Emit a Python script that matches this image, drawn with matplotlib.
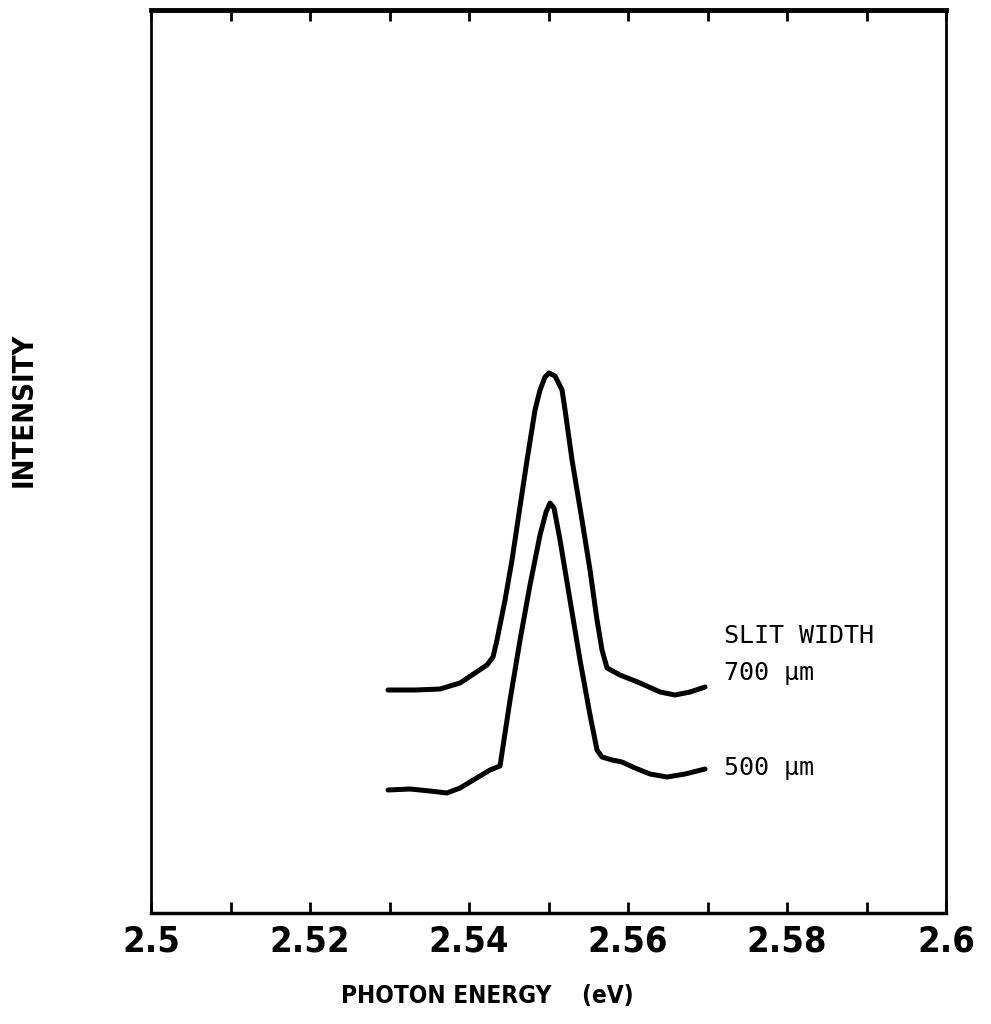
import matplotlib
matplotlib.use("Agg")
import matplotlib.pyplot as plt
import numpy as np
from matplotlib.ticker import MultipleLocator

# photon energy (eV) and intensity (arb. units)
e_700 = [2.52981, 2.53321, 2.53635, 2.53887, 2.54075, 2.54226, 2.54302, 2.54352,
         2.54453, 2.54541, 2.54616, 2.54730, 2.54830, 2.54893, 2.54956, 2.55006,
         2.55082, 2.55170, 2.55208, 2.55296, 2.55421, 2.55522, 2.55610, 2.55673,
         2.55736, 2.55899, 2.56151, 2.56403, 2.56591, 2.56780, 2.56969]
i_700 = [223, 223, 224, 230, 240, 248, 256, 273,
         313, 353, 393, 453, 503, 523, 536, 540,
         537, 523, 503, 453, 393, 343, 293, 263,
         245, 238, 230, 221, 218, 221, 226]

e_500 = [2.52981, 2.53258, 2.53509, 2.53723, 2.53887, 2.54075, 2.54264, 2.54390,
         2.54516, 2.54642, 2.54767, 2.54893, 2.54969, 2.55019, 2.55069, 2.55145,
         2.55270, 2.55396, 2.55522, 2.55610, 2.55673, 2.55799, 2.55925, 2.56088,
         2.56277, 2.56491, 2.56717, 2.56969]
i_500 = [123, 124, 122, 120, 125, 134, 143, 147,
         213, 273, 328, 378, 401, 410, 405, 373,
         313, 253, 198, 163, 156, 153, 151, 145,
         139, 136, 139, 144]

xticks = [2.5, 2.52, 2.54, 2.56, 2.58, 2.6]
xtick_labels = ["2.5", "2.52", "2.54", "2.56", "2.58", "2.6"]
slit_labels = ["700 µm", "500 µm"]

fig = plt.figure(figsize=(9.91, 10.24), dpi=100)
ax = fig.add_axes([0.1524, 0.1084, 0.8022, 0.8818])

ax.plot(e_700, i_700, color="black", lw=3.6, solid_capstyle="round", solid_joinstyle="round")
ax.plot(e_500, i_500, color="black", lw=3.6, solid_capstyle="round", solid_joinstyle="round")

ax.set_xlim(2.5, 2.6)
ax.set_ylim(0, 903)
ax.set_yticks([])
ax.set_xticks(xticks)
ax.set_xticklabels(xtick_labels, fontsize=26, fontweight="bold", fontstretch="condensed")
ax.xaxis.set_minor_locator(MultipleLocator(0.01))
ax.tick_params(axis="x", which="both", direction="in", length=8, width=2,
               top=True, bottom=True, pad=8)

for side, w in [("left", 2), ("right", 2), ("bottom", 2.5), ("top", 3.5)]:
    ax.spines[side].set_linewidth(w)

ax.set_xlabel("PHOTON ENERGY    (eV)", fontsize=17.5, fontweight="bold", fontstretch="condensed")
ax.xaxis.set_label_coords(0.423, -0.079)
ax.set_ylabel("INTENSITY", fontsize=21, fontweight="bold", fontstretch="condensed")
ax.yaxis.set_label_coords(-0.143, 0.557)

ax.text(0.721, 0.307, "SLIT WIDTH", transform=ax.transAxes, fontsize=18,
        family="DejaVu Sans Mono", va="center", ha="left")
ax.text(0.721, 0.266, slit_labels[0], transform=ax.transAxes, fontsize=18,
        family="DejaVu Sans Mono", va="center", ha="left")
ax.text(0.721, 0.161, slit_labels[1], transform=ax.transAxes, fontsize=18,
        family="DejaVu Sans Mono", va="center", ha="left")

fig.savefig("out.png", dpi=100)
